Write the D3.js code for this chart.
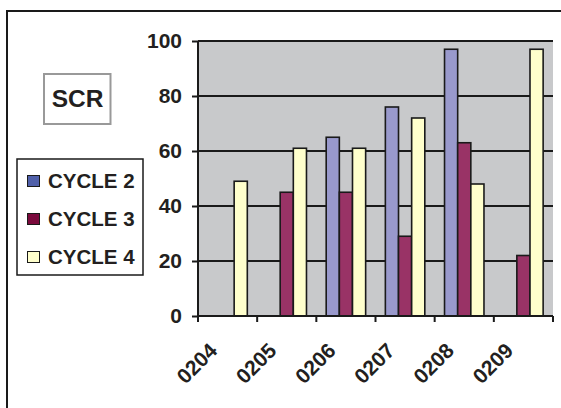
<!DOCTYPE html>
<html><head><meta charset="utf-8">
<script src="https://cdn.jsdelivr.net/npm/d3@7/dist/d3.min.js"></script>
<style>html,body{margin:0;padding:0;background:#fff;}svg{display:block;font-family:"Liberation Sans",Arial,sans-serif;}</style>
</head><body>
<svg id="c" width="561" height="408"></svg>
<script>
const categories = ["0204","0205","0206","0207","0208","0209"];
const seriesNames = ["CYCLE 2","CYCLE 3","CYCLE 4"];
const cycle2 = [null, null, 65, 76, 97, null];
const cycle3 = [null, 45, 45, 29, 63, 22];
const cycle4 = [49, 61, 61, 72, 48, 97];
const yTicks = [0,20,40,60,80,100];
const title = "SCR";

const barColors = ["#9999CC","#993366","#FFFFCC"];
const swatchColors = ["#5060AA","#7A0A3C","#FFFFCC"];
const seriesValues = [cycle2, cycle3, cycle4];

const svg = d3.select("#c");
const L = 198, R = 553, T = 41, B = 316;

// outer border
svg.append("rect").attr("x",7).attr("y",11).attr("width",600).attr("height",450)
  .attr("fill","#fff").attr("stroke","#1a1a1a").attr("stroke-width",2);

const x = d3.scaleBand().domain(categories).range([L,R]).paddingInner(0).paddingOuter(0);
const x1 = d3.scaleBand().domain(seriesNames).range([0,x.bandwidth()]).paddingInner(0).paddingOuter(0.75);
const y = d3.scaleLinear().domain([0,100]).range([B,T]);

svg.append("rect").attr("x",L).attr("y",T).attr("width",R-L).attr("height",B-T).attr("fill","#C8C9CB");

// gridlines
svg.append("g").selectAll("line").data(yTicks.filter(d=>d>0)).join("line")
  .attr("x1",L).attr("x2",R).attr("y1",d=>y(d)).attr("y2",d=>y(d))
  .attr("stroke","#1a1a1a").attr("stroke-width",2);

// bars
const rows = [];
categories.forEach((c,i)=>seriesNames.forEach((s,j)=>{
  const v = seriesValues[j][i];
  if (v!=null) rows.push({c,s,v,j});
}));
svg.append("g").selectAll("rect").data(rows).join("rect")
  .attr("x",d=>x(d.c)+x1(d.s)).attr("width",x1.bandwidth())
  .attr("y",d=>y(d.v)).attr("height",d=>y(0)-y(d.v))
  .attr("fill",d=>barColors[d.j]).attr("stroke","#1a1a1a").attr("stroke-width",1.6);

// y axis
const yAxis = d3.axisLeft(y).tickValues(yTicks).tickSize(6).tickPadding(10);
const gy = svg.append("g").attr("transform",`translate(${L},0)`).call(yAxis);
gy.select(".domain").attr("stroke","#1a1a1a").attr("stroke-width",2).attr("d",`M0,${T}V${B}`);
gy.selectAll(".tick line").attr("stroke","#1a1a1a").attr("stroke-width",2);
gy.selectAll(".tick text").attr("font-size",21).attr("font-weight","bold").attr("fill","#231f20")
  .attr("font-family","'Liberation Sans',Arial,sans-serif");

// x axis
const gx = svg.append("g").attr("transform",`translate(0,${B})`);
gx.append("line").attr("x1",L).attr("x2",R).attr("stroke","#1a1a1a").attr("stroke-width",2);
const bounds = categories.map(c=>x(c)).concat([R]);
gx.selectAll("line.tk").data(bounds).join("line").attr("class","tk")
  .attr("x1",d=>d).attr("x2",d=>d).attr("y1",0).attr("y2",6)
  .attr("stroke","#1a1a1a").attr("stroke-width",2);
gx.selectAll("text").data(categories).join("text")
  .attr("transform",d=>`translate(${x(d)+x.bandwidth()/2-9},${36}) rotate(-45)`)
  .attr("text-anchor","end").attr("font-size",21).attr("font-weight","bold").attr("fill","#231f20")
  .text(d=>d);

// title box
svg.append("rect").attr("x",44).attr("y",74).attr("width",66.5).attr("height",50)
  .attr("fill","#fff").attr("stroke","#999").attr("stroke-width",2);
svg.append("text").attr("x",77.5).attr("y",107).attr("text-anchor","middle")
  .attr("font-size",24.5).attr("font-weight","bold").attr("fill","#231f20").text(title);

// legend
svg.append("rect").attr("x",17).attr("y",159).attr("width",126).attr("height",116)
  .attr("fill","#fff").attr("stroke","#1a1a1a").attr("stroke-width",1.5);
const lg = svg.append("g").selectAll("g").data(seriesNames).join("g")
  .attr("transform",(d,i)=>`translate(0,${181+i*38})`);
lg.append("rect").attr("x",27.5).attr("y",-5.5).attr("width",12).attr("height",11)
  .attr("fill",(d,i)=>swatchColors[i]).attr("stroke","#1a1a1a").attr("stroke-width",1);
lg.append("text").attr("x",48).attr("y",7).attr("font-size",20.5).attr("font-weight","bold")
  .attr("fill","#231f20").text(d=>d);
</script>
</body></html>
